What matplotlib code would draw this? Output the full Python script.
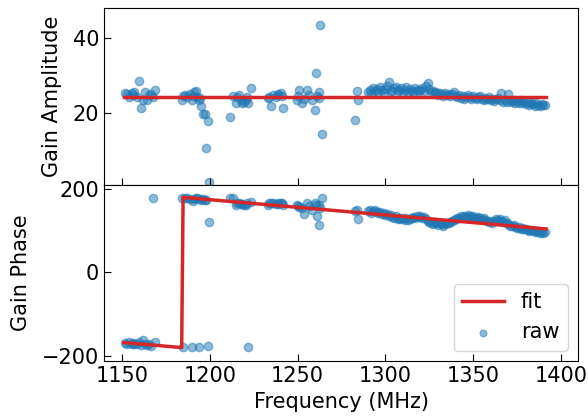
import matplotlib
matplotlib.use('Agg')
import matplotlib.pyplot as plt
import numpy as np
from matplotlib import rcParams

config = {
    "font.family": 'DejaVu Sans',
    "font.size": 15,
    "xtick.direction": 'in',
    "ytick.direction": 'in',
}
rcParams.update(config)

# raw data: frequency (MHz), gain amplitude, gain phase (deg)
freq_low = [1152.0, 1153.0, 1154.2, 1155.5, 1156.3, 1157.0, 1158.4, 1159.9, 1160.8, 1161.8,
            1163.1, 1164.1, 1165.5, 1166.5, 1167.5, 1168.8,
            1184.0, 1184.9, 1185.9, 1187.2, 1188.6, 1189.7, 1190.5, 1191.0, 1192.1, 1192.5,
            1193.8, 1194.4, 1195.0, 1196.3, 1197.4, 1197.8, 1198.8, 1199.7,
            1211.5, 1213.4, 1214.7, 1215.6, 1216.6, 1217.6, 1218.5, 1219.5, 1220.4, 1221.4,
            1221.9, 1223.3,
            1233.3, 1233.7, 1234.7, 1236.2, 1237.5, 1238.8, 1239.0, 1240.4, 1240.9, 1241.9,
            1249.5, 1250.4, 1251.0, 1252.3, 1253.6, 1255.2, 1256.7, 1258.0, 1259.9, 1260.5,
            1261.2, 1262.0, 1262.4, 1262.8, 1263.7,
            1282.7, 1283.6, 1284.6]
amp_low = [25.3, 25.0, 24.3, 25.4, 24.9, 25.7, 24.3, 28.5, 21.5, 23.5,
           25.7, 23.5, 24.8, 25.2, 24.3, 26.1,
           23.5, 24.6, 24.8, 24.3, 25.0, 23.5, 24.7, 25.7, 25.9, 24.3,
           23.6, 24.0, 21.9, 19.7, 19.7, 10.6, 17.9, 1.8,
           19.0, 24.5, 22.6, 24.3, 24.8, 23.6, 22.6, 23.0, 23.6, 24.2,
           22.8, 26.7,
           24.0, 24.3, 21.9, 24.8, 24.2, 24.8, 25.0, 25.4, 24.6, 21.5,
           23.5, 24.6, 26.1, 22.6, 23.9, 26.3, 24.8, 23.5, 20.8, 30.7,
           24.6, 25.7, 24.0, 43.5, 14.4,
           18.3, 25.9, 23.6]
phase_low = [-168, -170, -167, -171, -169, -172, -170, -166, -173, -162,
             -171, -174, -172, -175, 178, -165,
             178, -177, 179, 178, 176, -178, 171, 175, 177, 179,
             -178, 176, 174, 175, 173, 172, -176, 121,
             178, 177, 160, 166, 165, 164, 163, 161, 160, 165,
             -177, 168,
             162, 165, 167, 166, 164, 163, 167, 165, 167, 162,
             160, 158, 157, 154, 140, 166, 158, 150, 166, 160,
             134, 162, 114, 155, 178,
             146, 150, 128]

freq_high = [1290, 1291, 1292, 1293, 1294, 1295, 1296, 1297, 1298, 1299,
             1300, 1301, 1302, 1303, 1304, 1305, 1306, 1307, 1308, 1309,
             1310, 1311, 1312, 1313, 1314, 1315, 1316, 1317, 1318, 1319,
             1320, 1321, 1322, 1323, 1324, 1325, 1326, 1327, 1328, 1329,
             1330, 1331, 1332, 1333, 1334, 1335, 1336, 1337, 1338, 1339,
             1340, 1341, 1342, 1343, 1344, 1345, 1346, 1347, 1348, 1349,
             1350, 1351, 1352, 1353, 1354, 1355, 1356, 1357, 1358, 1359,
             1360, 1361, 1362, 1363, 1364, 1365, 1366, 1367, 1368, 1369,
             1370, 1371, 1372, 1373, 1374, 1375, 1376, 1377, 1378, 1379,
             1380, 1381, 1382, 1383, 1384, 1385, 1386, 1387, 1388, 1389,
             1390, 1391]
amp_high = [25.6, 26.2, 25.4, 26.8, 25.9, 26.5, 25.7, 26.9, 26.1, 25.5,
            26.4, 27.1, 28.3, 26.0, 25.8, 26.6, 27.0, 25.9, 26.3, 26.8,
            25.7, 26.2, 26.9, 25.6, 26.4, 26.0, 25.5, 26.7, 26.1, 25.9,
            26.3, 26.8, 25.8, 27.2, 27.9, 26.4, 25.7, 26.0, 25.3, 25.6,
            24.9, 25.4, 25.1, 24.6, 25.5, 24.8, 25.2, 24.5, 25.0, 25.6,
            24.7, 24.3, 24.9, 24.1, 24.6, 23.9, 24.4, 24.8, 24.2, 23.8,
            24.5, 24.0, 23.7, 24.3, 24.6, 23.9, 23.6, 24.1, 23.8, 24.4,
            23.5, 23.9, 23.2, 23.7, 24.0, 23.4, 25.3, 23.1, 23.6, 23.0,
            25.2, 23.3, 22.9, 23.5, 22.7, 23.2, 22.8, 23.4, 22.6, 23.0,
            22.5, 22.9, 22.3, 22.8, 22.4, 22.0, 22.6, 22.2, 21.9, 22.4,
            22.1, 22.3]
phase_high = [146, 149, 143, 147, 150, 144, 141, 145, 139, 142,
              137, 140, 135, 138, 133, 131, 134, 128, 130, 127,
              131, 126, 129, 125, 128, 130, 133, 131, 135, 132,
              134, 130, 133, 128, 124, 121, 119, 116, 120, 117,
              114, 118, 115, 112, 116, 119, 117, 121, 123, 126,
              128, 131, 129, 134, 132, 136, 133, 137, 135, 132,
              134, 131, 129, 133, 130, 127, 129, 125, 123, 121,
              124, 119, 122, 127, 125, 128, 124, 121, 126, 118,
              115, 112, 110, 113, 108, 106, 109, 104, 107, 103,
              105, 101, 99, 102, 98, 100, 96, 99, 95, 97,
              94, 96]

# fit curves
fit_amp_f = [1151.0, 1391.5]
fit_amp = [24.4, 24.4]
fit_phase_f = [1151.0, 1184.0, 1184.8, 1391.5]
fit_phase = [-167.5, -179.5, 179.5, 104.0]

freq = np.array(freq_low + freq_high)
amp = np.array(amp_low + amp_high)
phase = np.array(phase_low + phase_high)

fig, (ax1, ax2) = plt.subplots(2, 1, sharex=True, figsize=(5.88, 4.19), dpi=100)
fig.subplots_adjust(left=0.177, right=0.983, top=0.981, bottom=0.138, hspace=0)

ax1.plot(fit_amp_f, fit_amp, color='tab:red', lw=2.5, label='fit')
ax1.scatter(freq, amp, color='tab:blue', alpha=0.5, s=36, label='raw')
ax1.set_ylabel('Gain Amplitude', labelpad=8)
ax1.set_ylim(1.0, 48)
ax1.set_yticks([20, 40])

ax2.plot(fit_phase_f, fit_phase, color='tab:red', lw=2.5, label='fit')
ax2.scatter(freq, phase, color='tab:blue', alpha=0.5, s=36, label='raw')
ax2.set_ylabel('Gain Phase', labelpad=8)
ax2.set_ylim(-212, 210)
ax2.set_yticks([-200, 0, 200])
ax2.set_xlabel('Frequency (MHz)')
ax2.set_xlim(1139.8, 1409.7)
ax2.set_xticks([1150, 1200, 1250, 1300, 1350, 1400])
ax2.legend(loc='lower right', markerscale=0.8)

for ax in (ax1, ax2):
    ax.tick_params(length=5)

plt.savefig('out.png')
